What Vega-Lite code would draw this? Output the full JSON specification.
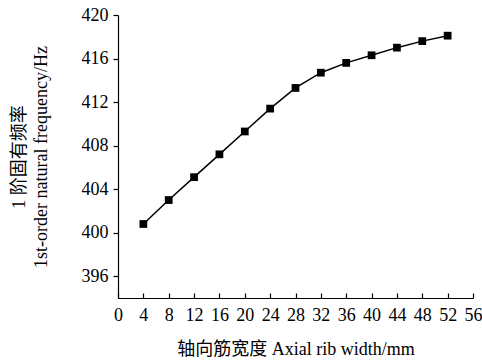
{
  "$schema": "https://vega.github.io/schema/vega-lite/v6.json",
  "width": 355,
  "height": 283,
  "autosize": {"type": "none"},
  "padding": {"left": 118, "top": 15, "right": 9, "bottom": 65},
  "background": "white",
  "config": {
    "view": {"stroke": null},
    "font": "Liberation Serif",
    "axis": {
      "labelFont": "Liberation Serif",
      "titleFont": "Liberation Serif, Noto Sans CJK SC",
      "labelFontSize": 18,
      "titleFontSize": 18,
      "titleFontWeight": "normal",
      "labelColor": "black",
      "titleColor": "black",
      "domainColor": "black",
      "tickColor": "black",
      "domainWidth": 1.2,
      "tickWidth": 1.2,
      "tickSize": 5,
      "grid": false
    }
  },
  "data": {
    "values": [
      {"width": 4, "freq": 400.8},
      {"width": 8, "freq": 403.0},
      {"width": 12, "freq": 405.1},
      {"width": 16, "freq": 407.2},
      {"width": 20, "freq": 409.3},
      {"width": 24, "freq": 411.4},
      {"width": 28, "freq": 413.3},
      {"width": 32, "freq": 414.7},
      {"width": 36, "freq": 415.6},
      {"width": 40, "freq": 416.3},
      {"width": 44, "freq": 417.0},
      {"width": 48, "freq": 417.6},
      {"width": 52, "freq": 418.1}
    ]
  },
  "encoding": {
    "x": {
      "field": "width",
      "type": "quantitative",
      "scale": {"domain": [0, 56], "nice": false, "zero": false},
      "axis": {
        "values": [0, 4, 8, 12, 16, 20, 24, 28, 32, 36, 40, 44, 48, 52, 56],
        "tickSize": -5,
        "labelPadding": 13,
        "title": "轴向筋宽度 Axial rib width/mm",
        "titlePadding": 16,
        "labelFlush": false
      }
    },
    "y": {
      "field": "freq",
      "type": "quantitative",
      "scale": {"domain": [394, 420], "nice": false, "zero": false},
      "axis": {
        "values": [396, 400, 404, 408, 412, 416, 420],
        "labelPadding": 5,
        "title": ["1 阶固有频率", "1st-order natural frequency/Hz"],
        "titlePadding": 31,
        "titleLineHeight": 22,
        "labelFlush": false
      }
    }
  },
  "layer": [
    {"mark": {"type": "line", "color": "black", "strokeWidth": 1.5}},
    {"mark": {"type": "square", "color": "black", "filled": true, "opacity": 1, "size": 60}}
  ]
}
